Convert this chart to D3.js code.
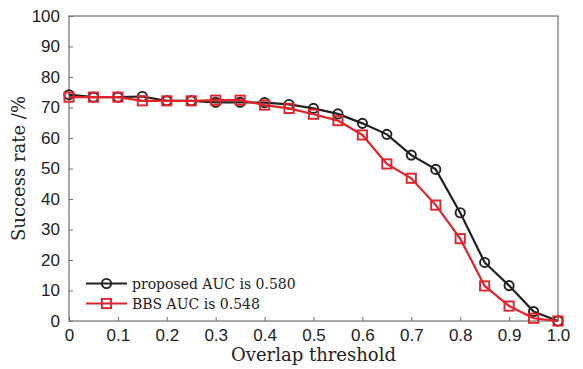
<!DOCTYPE html>
<html>
<head>
<meta charset="utf-8">
<script src="https://cdn.jsdelivr.net/npm/d3@7.9.0/dist/d3.min.js"></script>
<style>
  body { margin: 0; background: #fff; }
  svg { display: block; font-family: "DejaVu Serif", "Liberation Serif", serif; }
</style>
</head>
<body>
<svg id="chart" width="583" height="369"></svg>
<script>
const thresholds = [0, 0.05, 0.1, 0.15, 0.2, 0.25, 0.3, 0.35, 0.4, 0.45, 0.5,
  0.55, 0.6, 0.65, 0.7, 0.75, 0.8, 0.85, 0.9, 0.95, 1.0];
const proposed = [74.2, 73.4, 73.4, 73.6, 72.2, 72.2, 71.7, 71.7, 71.6, 71.0, 69.7,
  67.9, 64.8, 61.2, 54.4, 49.7, 35.5, 19.2, 11.6, 3.1, 0];
const bbs = [73.4, 73.4, 73.4, 72.2, 72.2, 72.2, 72.4, 72.4, 70.8, 69.7, 67.8,
  65.7, 61.0, 51.5, 46.8, 38.0, 27.0, 11.5, 4.9, 0.9, 0];
const xTicks = [0, 0.1, 0.2, 0.3, 0.4, 0.5, 0.6, 0.7, 0.8, 0.9, 1.0];
const yTicks = [0, 10, 20, 30, 40, 50, 60, 70, 80, 90, 100];
const seriesNames = ["proposed AUC is 0.580", "BBS AUC is 0.548"];

const margin = { left: 69, right: 25, top: 16, bottom: 48 };
const width = 583, height = 369;
const svg = d3.select('#chart');

let x = d3.scaleLinear().domain([0, 1]).range([margin.left, width - margin.right]);
let y = d3.scaleLinear().domain([0, 100]).range([height - margin.bottom, margin.top]);

const axisColor = '#6e6e6e';

// ticks pointing inward
svg.append('g')
  .attr('transform', `translate(0,${y(0)})`)
  .call(d3.axisBottom(x).tickValues(xTicks).tickSize(-4).tickPadding(8)
    .tickFormat(d => d === 0 ? '0' : d3.format('.1f')(d)))
  .call(g => g.select('.domain').remove())
  .call(g => g.selectAll('line').attr('stroke', axisColor))
  .call(g => g.selectAll('text').attr('font-size', 17).attr('fill', '#222'));

svg.append('g')
  .attr('transform', `translate(${x(0)},0)`)
  .call(d3.axisLeft(y).tickValues(yTicks).tickSize(-4).tickPadding(9))
  .call(g => g.select('.domain').remove())
  .call(g => g.selectAll('line').attr('stroke', axisColor))
  .call(g => g.selectAll('text').attr('font-size', 17).attr('fill', '#222'));

svg.append('rect')
  .attr('x', x(0)).attr('y', y(100))
  .attr('width', x(1) - x(0)).attr('height', y(0) - y(100))
  .attr('fill', 'none').attr('stroke', axisColor).attr('stroke-width', 1.2);

svg.append('text')
  .attr('x', (x(0) + x(1)) / 2).attr('y', 361)
  .attr('text-anchor', 'middle').attr('font-size', 18).attr('fill', '#222')
  .text('Overlap threshold');

svg.append('text')
  .attr('transform', `translate(25,${(y(0) + y(100)) / 2}) rotate(-90)`)
  .attr('text-anchor', 'middle').attr('font-size', 18).attr('fill', '#222')
  .text('Success rate /%');

const series = [
  { name: seriesNames[0], values: proposed, color: '#222222', marker: 'circle' },
  { name: seriesNames[1], values: bbs, color: '#e2232b', marker: 'square' }
];

const line = d3.line().x((d, i) => x(thresholds[i])).y(d => y(d));

function drawMarker(g, cx, cy, s) {
  if (s.marker === 'circle') {
    g.append('circle').attr('cx', cx).attr('cy', cy).attr('r', 4.6)
      .attr('fill', 'none').attr('stroke', s.color).attr('stroke-width', 1.9);
  } else {
    g.append('rect').attr('x', cx - 4.6).attr('y', cy - 4.6)
      .attr('width', 9.2).attr('height', 9.2)
      .attr('fill', 'none').attr('stroke', s.color).attr('stroke-width', 1.9);
  }
}

series.forEach(s => {
  svg.append('path').datum(s.values)
    .attr('d', line).attr('fill', 'none')
    .attr('stroke', s.color).attr('stroke-width', 2.2);
  const g = svg.append('g');
  s.values.forEach((v, i) => drawMarker(g, x(thresholds[i]), y(v), s));
});

// legend
series.forEach((s, i) => {
  const ly = 283.5 + i * 20;
  const g = svg.append('g');
  g.append('line').attr('x1', 86).attr('x2', 127).attr('y1', ly).attr('y2', ly)
    .attr('stroke', s.color).attr('stroke-width', 2.2);
  drawMarker(g, 106.5, ly, s);
  g.append('text').attr('x', 132).attr('y', ly + 5)
    .attr('font-size', 14).attr('fill', '#222').text(s.name);
});
</script>
</body>
</html>
